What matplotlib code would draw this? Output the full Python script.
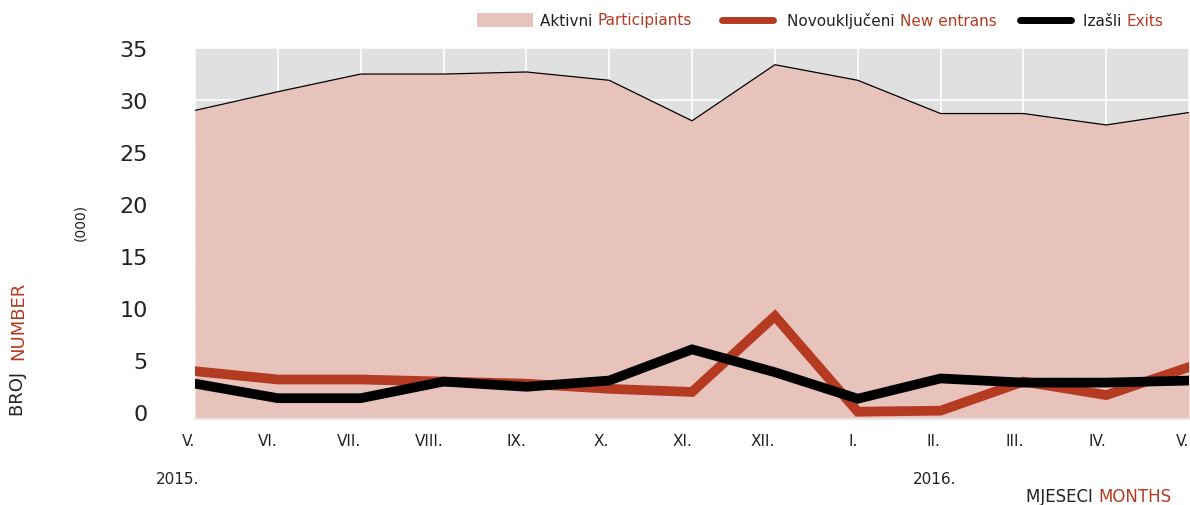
import matplotlib
matplotlib.use('Agg')

import matplotlib.pyplot as plt
import matplotlib.transforms as mtransforms
from matplotlib.lines import Line2D
from matplotlib.patches import Rectangle

RED = '#b53a22'
FILL = '#e8c3bb'
BG = '#dfe0df'

months = ['V.', 'VI.', 'VII.', 'VIII.', 'IX.', 'X.', 'XI.', 'XII.',
          'I.', 'II.', 'III.', 'IV.', 'V.']
participants = [29.0, 30.8, 32.5, 32.5, 32.7, 31.9, 28.0, 33.4,
                31.9, 28.7, 28.7, 27.6, 28.8]
new_entrants = [3.9, 3.1, 3.1, 2.9, 2.7, 2.2, 1.9, 9.2,
                0.0, 0.1, 2.9, 1.6, 4.3]
exits = [2.7, 1.3, 1.3, 2.9, 2.4, 3.0, 6.0, 3.8,
         1.25, 3.2, 2.8, 2.8, 3.0]
yticks = [0, 5, 10, 15, 20, 25, 30, 35]

plt.rcParams['font.family'] = ['DejaVu Sans']

fig = plt.figure(figsize=(11.9, 5.06), dpi=100)
ax = fig.add_axes([0.1639, 0.17, 0.8353, 0.733])
ax.set_facecolor(BG)

x = list(range(len(months)))
ax.fill_between(x, -5, participants, color=FILL, lw=0, zorder=2)
ax.plot(x, participants, color='black', lw=0.9, zorder=3)
ax.plot(x, new_entrants, color=RED, lw=7, solid_capstyle='round',
        solid_joinstyle='miter', zorder=4)
ax.plot(x, exits, color='black', lw=7, solid_capstyle='round',
        solid_joinstyle='miter', zorder=5)

ax.set_xlim(0, len(months) - 1)
ax.set_ylim(-0.7, 35)
ax.set_xticks(x)
ax.set_xticklabels(months, fontsize=11, color='#222222', ha='right')
shift = mtransforms.ScaledTranslation(-2 / 100, 0, fig.dpi_scale_trans)
for lab in ax.get_xticklabels():
    lab.set_transform(lab.get_transform() + shift)
ax.set_yticks(yticks)
ax.set_yticklabels([str(v) for v in yticks], fontsize=16, color='#222222')
ax.tick_params(axis='both', length=0)
ax.tick_params(axis='x', pad=10)
ax.tick_params(axis='y', pad=34)
ax.grid(True, color='white', lw=1.2, zorder=1)
for side in ['top', 'right', 'left']:
    ax.spines[side].set_visible(False)
ax.spines['bottom'].set_color('#e6e6e6')
ax.spines['bottom'].set_linewidth(1.5)

# year captions under the month labels
fig.text(178 / 1190, 1 - 480 / 506, '2015.', fontsize=11, color='#222222',
         ha='center', va='center')
fig.text(935 / 1190, 1 - 480 / 506, '2016.', fontsize=11, color='#222222',
         ha='center', va='center')


def text_run(x0, y0, parts, rotation=0, size=11):
    """Write coloured pieces of text one after the other."""
    renderer = fig.canvas.get_renderer()
    pos = x0 if rotation == 0 else y0
    for s, c in parts:
        if rotation == 0:
            t = fig.text(pos, y0, s, color=c, fontsize=size, ha='left', va='center')
            bb = t.get_window_extent(renderer)
            pos += bb.width / fig.bbox.width
        else:
            t = fig.text(x0, pos, s, color=c, fontsize=size, rotation=90,
                         ha='center', va='bottom')
            bb = t.get_window_extent(renderer)
            pos += bb.height / fig.bbox.height
    return pos


text_run(1026 / 1190, 1 - 497 / 506, [('MJESECI ', '#222222'), ('MONTHS', RED)],
         size=12)
text_run(18 / 1190, 1 - 416 / 506, [('BROJ  ', '#222222'), ('NUMBER', RED)],
         rotation=90, size=13)
fig.text(80 / 1190, 1 - 222 / 506, '(000)', fontsize=10, rotation=90,
         color='#222222', ha='center', va='center')

# legend row
ly = 1 - 21 / 506
fig.add_artist(Rectangle((477 / 1190, 1 - 28 / 506), 56 / 1190, 14 / 506,
                         transform=fig.transFigure, color=FILL, lw=0))
text_run(540 / 1190, ly, [('Aktivni ', '#222222'), ('Participiants', RED)])
fig.add_artist(Line2D([722 / 1190, 773 / 1190], [ly, ly], transform=fig.transFigure,
                      color=RED, lw=5, solid_capstyle='round'))
text_run(787 / 1190, ly, [('Novouključeni ', '#222222'), ('New entrans', RED)])
fig.add_artist(Line2D([1020 / 1190, 1071 / 1190], [ly, ly], transform=fig.transFigure,
                      color='black', lw=5, solid_capstyle='round'))
text_run(1083 / 1190, ly, [('Izašli ', '#222222'), ('Exits', RED)])

fig.savefig('out.png', dpi=100)
